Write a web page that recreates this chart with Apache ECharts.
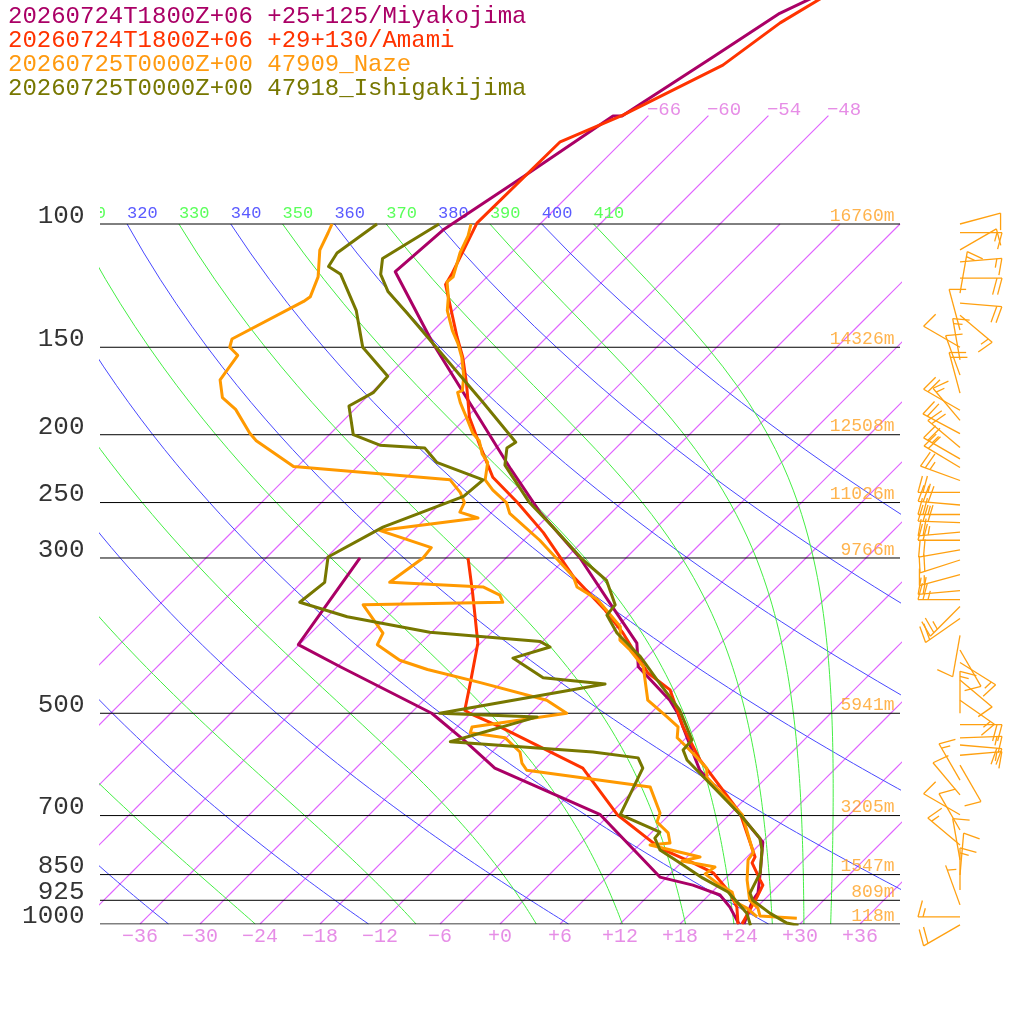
<!DOCTYPE html>
<html>
<head>
<meta charset="utf-8">
<title>Skew-T</title>
<script src="https://cdn.jsdelivr.net/npm/echarts@6/dist/echarts.min.js"></script>
<style>
html,body{margin:0;padding:0;background:#fff}
#chart{width:1024px;height:1024px}
</style>
</head>
<body>
<div id="chart"></div>
<script>
// soundings: [pressure hPa, temperature C]
var miyakoT = [[1000,24.4],[925,22.9],[903,22.7],[845,20.9],[764,18.1],[698,13.1],[603,4.6],[546,0.4],[500,-3.3],[479,-5.4],[429,-11.9],[397,-14.4],[348,-21.1],[300,-28.6],[258,-37.2],[224,-44.4],[177,-56.0],[148,-64.8],[117,-75.7],[102,-75.1],[85.6,-72.4],[70.1,-69.5],[70.1,-68.6],[57.8,-65.4],[50,-63.1],[47,-61.0]];
var miyakoTd = [[1000,23.9],[946,21.3],[909,19.1],[880,15.4],[857,11.3],[698,-0.9],[599,-16.1],[546,-22.0],[500,-27.9],[429,-41.7],[399,-48.1],[300,-50.6]];
var amamiT = [[1000,24.2],[915,23.0],[880,22.4],[865,21.6],[818,19.1],[802,18.8],[694,12.9],[583,3.6],[523,-1.4],[463,-6.4],[438,-10.3],[420,-12.4],[384,-16.8],[356,-20.9],[319,-27.4],[276,-34.8],[250,-40.4],[230,-45.4],[207,-49.9],[189,-53.7],[169,-57.4],[155,-60.4],[145,-63.0],[122,-69.4],[118,-69.8],[99.7,-72.4],[76.3,-72.2],[69.9,-68.6],[59.3,-63.6],[51.6,-62.1],[47,-60.2]];
var amamiTd = [[1000,23.8],[946,22.0],[903,19.9],[845,16.2],[818,13.2],[779,8.4],[698,0.8],[599,-7.3],[523,-19.7],[500,-24.1],[495,-24.9],[452,-27.1],[397,-30.3],[337,-35.8],[300,-39.8]];
var nazeT = [[981,29.1],[974,25.2],[949,24.2],[925,22.6],[865,20.3],[810,18.4],[791,18.2],[698,13.3],[617,6.0],[599,5.1],[570,2.2],[542,-0.9],[523,-1.9],[506,-4.0],[479,-7.6],[429,-11.4],[406,-14.4],[393,-16.4],[376,-17.7],[344,-22.7],[330,-26.0],[319,-27.4],[283,-34.4],[259,-40.1],[250,-41.5],[240,-44.1],[232,-45.9],[219,-47.4],[213,-48.8],[204,-50.4],[199,-51.8],[189,-54.0],[180,-56.1],[174,-57.4],[173,-57.1],[165,-58.4],[155,-60.5],[148,-62.3],[142,-64.1],[133,-66.6],[127,-67.9],[121,-69.5],[119,-69.4],[110,-71.1],[104,-72.0],[100,-72.9]];
var nazeTd = [[977,25.0],[949,23.1],[930,21.3],[900,20.0],[880,18.1],[848,15.5],[829,15.8],[813,11.9],[802,13.3],[771,7.1],[766,8.9],[741,7.7],[715,5.5],[694,4.9],[637,1.3],[603,-12.7],[589,-13.9],[568,-15.2],[542,-18.1],[533,-22.1],[523,-22.5],[500,-14.4],[479,-17.7],[452,-26.1],[433,-32.7],[420,-36.4],[399,-40.2],[384,-40.8],[350,-45.6],[347,-31.9],[339,-32.9],[330,-35.4],[325,-45.2],[300,-44.3],[290,-44.5],[274,-51.4],[263,-42.8],[258,-45.2],[250,-45.7],[242,-47.1],[232,-49.4],[222,-66.4],[204,-72.7],[199,-74.1],[184,-77.9],[177,-80.4],[167,-82.4],[154,-83.1],[150,-84.7],[146,-85.3],[129,-81.9],[127,-81.7],[119,-82.9],[109,-85.4],[103,-86.3],[100,-86.8]];
var ishigakiT = [[1005,30.0],[997,28.6],[965,25.9],[925,22.9],[903,21.9],[885,21.6],[845,20.9],[784,18.8],[754,17.4],[698,13.1],[583,2.3],[564,0.9],[546,0.8],[495,-3.4],[448,-8.7],[415,-12.7],[384,-17.4],[362,-20.2],[350,-20.4],[323,-23.7],[302,-28.1],[271,-34.4],[250,-39.2],[221,-45.4],[209,-46.9],[205,-46.6],[180,-53.8],[165,-58.7],[148,-64.8],[134,-70.4],[125,-74.4],[118,-76.9],[112,-78.3],[100,-76.1]];
var ishigakiTd = [[1005,25.2],[965,23.6],[930,21.5],[900,19.6],[860,15.7],[818,11.9],[784,8.6],[754,6.9],[739,6.8],[698,1.1],[599,-1.3],[579,-2.8],[568,-7.9],[549,-23.2],[506,-17.0],[500,-27.1],[454,-13.5],[445,-20.3],[417,-25.3],[402,-22.7],[395,-24.2],[383,-36.2],[364,-46.0],[347,-52.2],[325,-51.7],[299,-53.9],[271,-51.4],[245,-46.4],[232,-46.1],[219,-52.5],[209,-55.1],[207,-59.9],[200,-63.6],[182,-66.9],[174,-65.8],[165,-66.0],[150,-71.4],[133,-75.7],[118,-80.9],[115,-82.9],[110,-83.4],[100,-82.3]];

// Naze winds
var windP = [100,102.9,108.9,113.3,119.5,125.5,129.7,135,141.7,150,156.4,164.4,174.4,184.5,190.8,199.3,208.6,216.5,222.8,232.5,241.8,252,260,267,275.6,283,292,302,317,334,344,352,366,387,406,423,448,479,500,519,542,555,574,593,623,654,698,734,771,810,851,894,939,977,1003];
var windDir = [75,90,60,85,90,10,95,130,345,300,350,340,345,300,320,298,310,300,301,290,270,275,270,272,265,270,260,252,255,265,270,225,235,190,150,122,130,125,0,90,88,95,85,150,330,320,300,330,310,350,5,0,340,270,240];
var windSpd = [10,15,10,15,20,15,20,15,10,10,15,10,20,20,15,20,20,25,20,25,25,30,25,30,25,20,20,20,15,20,25,25,20,10,10,15,10,15,15,20,15,20,15,10,15,10,10,10,15,10,10,15,5,15,20];

var levels = [100,150,200,250,300,500,700,850,925,1000];
var heights = [16760,14326,12508,11026,9766,5941,3205,1547,809,118];
var tempTicks = [-36,-30,-24,-18,-12,-6,0,6,12,18,24,30,36];
var isoTemps = [-66,-60,-54,-48,-42,-36,-30,-24,-18,-12,-6,0,6,12,18,24,30,36];
var isoLabels = [-66,-60,-54,-48];
var dryThetas = [240,260,280,300,320,340,360,380,400];
var moistThetas = [250,270,290,310,330,350,370,390,410];
var thetaLabels = [310,320,330,340,350,360,370,380,390,400,410];

var FONT = "'Liberation Mono', monospace";
var SKEW = 70;
function lg(p) { return Math.log10(1000 / p); }
function pt(p, t) { var y = lg(p); return [t + SKEW * y, y]; }
function minus(v) { return v < 0 ? '\u2212' + (-v) : '+' + v; }

var KAP = 287.04 / 1005.7;
function dryLine(th) {
  var out = [];
  for (var p = 100; p <= 1000; p += 10) out.push(pt(p, th * Math.pow(p / 1000, KAP) - 273.15));
  return out;
}
function moistLine(th) {
  var Rd = 287.04, cp = 1005.7, Lv = 2.501e6, eps = 0.622;
  function f(p, T) {
    var es = 6.112 * Math.exp(17.67 * (T - 273.15) / (T - 29.65));
    var r = eps * es / (p - es);
    return (Rd * T + Lv * r) / (p * (cp + Lv * Lv * r * eps / (Rd * T * T)));
  }
  var p = 100, T = th * Math.pow(0.1, KAP), dp = 2, out = [pt(p, T - 273.15)];
  for (var i = 0; i < 450; i++) {
    var k1 = f(p, T), k2 = f(p + dp / 2, T + dp * k1 / 2), k3 = f(p + dp / 2, T + dp * k2 / 2), k4 = f(p + dp, T + dp * k3);
    T += dp * (k1 + 2 * k2 + 2 * k3 + k4) / 6;
    p += dp;
    if (i % 5 === 4) out.push(pt(p, T - 273.15));
  }
  return out;
}
function isoLine(t) {
  var top = t <= -48 ? 70 : 100, out = [];
  for (var p = 1000; p >= top; p -= 20) out.push(pt(p, t));
  out.push(pt(top, t));
  return out;
}

var series = [];
function addLine(data, color, width, z) {
  series.push({ type: 'line', data: data, symbol: 'none', showSymbol: false, silent: true, clip: true, z: z || 2,
    itemStyle: { color: color }, lineStyle: { color: color, width: width, join: 'round', opacity: 1 } });
}

isoTemps.forEach(function (t) { addLine(isoLine(t), '#e066ff', 1.2, 1); });
dryThetas.forEach(function (th) { addLine(dryLine(th), '#4848ff', 1, 1); });
moistThetas.forEach(function (th) { addLine(moistLine(th), '#44ee44', 1, 1); });
levels.forEach(function (p) { addLine([[-40, lg(p)], [40, lg(p)]], '#000000', 1, 1); });

addLine(miyakoT.map(function (d) { return pt(d[0], d[1]); }), '#aa0066', 3);
addLine(miyakoTd.map(function (d) { return pt(d[0], d[1]); }), '#aa0066', 3);
addLine(amamiT.map(function (d) { return pt(d[0], d[1]); }), '#ff3300', 3);
addLine(amamiTd.map(function (d) { return pt(d[0], d[1]); }), '#ff3300', 3);
addLine(nazeT.map(function (d) { return pt(d[0], d[1]); }), '#ff9900', 3);
addLine(nazeTd.map(function (d) { return pt(d[0], d[1]); }), '#ff9900', 3);
addLine(ishigakiT.map(function (d) { return pt(d[0], d[1]); }), '#777700', 3);
addLine(ishigakiTd.map(function (d) { return pt(d[0], d[1]); }), '#777700', 3);

function labels(data, label) {
  series.push({ type: 'scatter', data: data, symbolSize: 1, silent: true, clip: false,
    itemStyle: { color: 'rgba(0,0,0,0)' }, label: Object.assign({ show: true, formatter: '{b}', fontFamily: FONT }, label) });
}
labels(levels.map(function (p) { return { name: String(p), value: [-40, lg(p)] }; }),
  { position: 'left', distance: 15, offset: [0, -8], fontSize: 26, lineHeight: 20, color: '#000' });
labels(levels.map(function (p, i) { return { name: heights[i] + 'm', value: [40, lg(p)] }; }),
  { position: 'left', distance: 5, offset: [0, -8], fontSize: 18, lineHeight: 16, color: '#ffa020' });
labels(tempTicks.map(function (t) { return { name: minus(t), value: [t, 0] }; }),
  { position: 'bottom', distance: 2, fontSize: 20, color: '#e070e0' });
labels(isoLabels.map(function (t) { return { name: minus(t), value: pt(70, t) }; }),
  { position: 'right', distance: 0, offset: [-2, -6], fontSize: 19, color: '#e070e0' });

// theta labels along 100 hPa, clipped to the frame
series.push({
  type: 'custom', clip: true, silent: true,
  data: thetaLabels.map(function (th) { return [pt(100, th * Math.pow(0.1, KAP) - 273.15)[0], 1, th, th % 20 === 0 ? 1 : 0]; }),
  renderItem: function (params, api) {
    var c = api.coord([api.value(0), api.value(1)]);
    return { type: 'text', x: c[0], y: c[1] - 11, style: { text: String(api.value(2)),
      fill: api.value(3) ? '#5a5aff' : '#5aff5a', fontSize: 17, fontFamily: FONT, align: 'left', verticalAlign: 'middle' } };
  }
});

// wind barbs
series.push({
  type: 'custom', clip: false, silent: true,
  data: windP.map(function (p, i) { return [46, lg(p), windDir[i], windSpd[i]]; }),
  renderItem: function (params, api) {
    var b = api.coord([api.value(0), api.value(1)]);
    var rad = api.value(2) * Math.PI / 180, spd = api.value(3);
    var ux = Math.sin(rad), uy = -Math.cos(rad), L = 42;
    var a = 105 * Math.PI / 180;
    var fx = ux * Math.cos(a) - uy * Math.sin(a), fy = ux * Math.sin(a) + uy * Math.cos(a);
    var st = { stroke: '#ffa010', lineWidth: 1.3 };
    var kids = [{ type: 'line', shape: { x1: b[0], y1: b[1], x2: b[0] + ux * L, y2: b[1] + uy * L }, style: st }];
    var s = Math.round(spd / 5) * 5, pos = 0;
    while (s >= 10) {
      var px = b[0] + ux * (L - pos), py = b[1] + uy * (L - pos);
      kids.push({ type: 'line', shape: { x1: px, y1: py, x2: px + fx * 17, y2: py + fy * 17 }, style: st });
      pos += 5; s -= 10;
    }
    if (s >= 5) {
      if (pos === 0) pos = 5;
      var hx = b[0] + ux * (L - pos), hy = b[1] + uy * (L - pos);
      kids.push({ type: 'line', shape: { x1: hx, y1: hy, x2: hx + fx * 9, y2: hy + fy * 9 }, style: st });
    }
    return { type: 'group', children: kids };
  }
});

var chart = echarts.init(document.getElementById('chart'), null, { renderer: 'canvas' });
chart.setOption({
  animation: false,
  title: [
    { text: '20260724T1800Z+06 +25+125/Miyakojima', color: '#aa0066' },
    { text: '20260724T1800Z+06 +29+130/Amami', color: '#ff3300' },
    { text: '20260725T0000Z+00 47909_Naze', color: '#ff9a10' },
    { text: '20260725T0000Z+00 47918_Ishigakijima', color: '#777700' }
  ].map(function (d, i) {
    return { text: d.text, left: 8, top: 5 + i * 24, padding: 0,
      textStyle: { color: d.color, fontSize: 24, fontWeight: 'normal', fontFamily: FONT } };
  }),
  grid: { left: 100, right: 124, top: 0, bottom: 100 },
  xAxis: { type: 'value', min: -40, max: 40, show: false },
  yAxis: { type: 'value', min: 0, max: 924 / 700, show: false },
  series: series
});
</script>
</body>
</html>
